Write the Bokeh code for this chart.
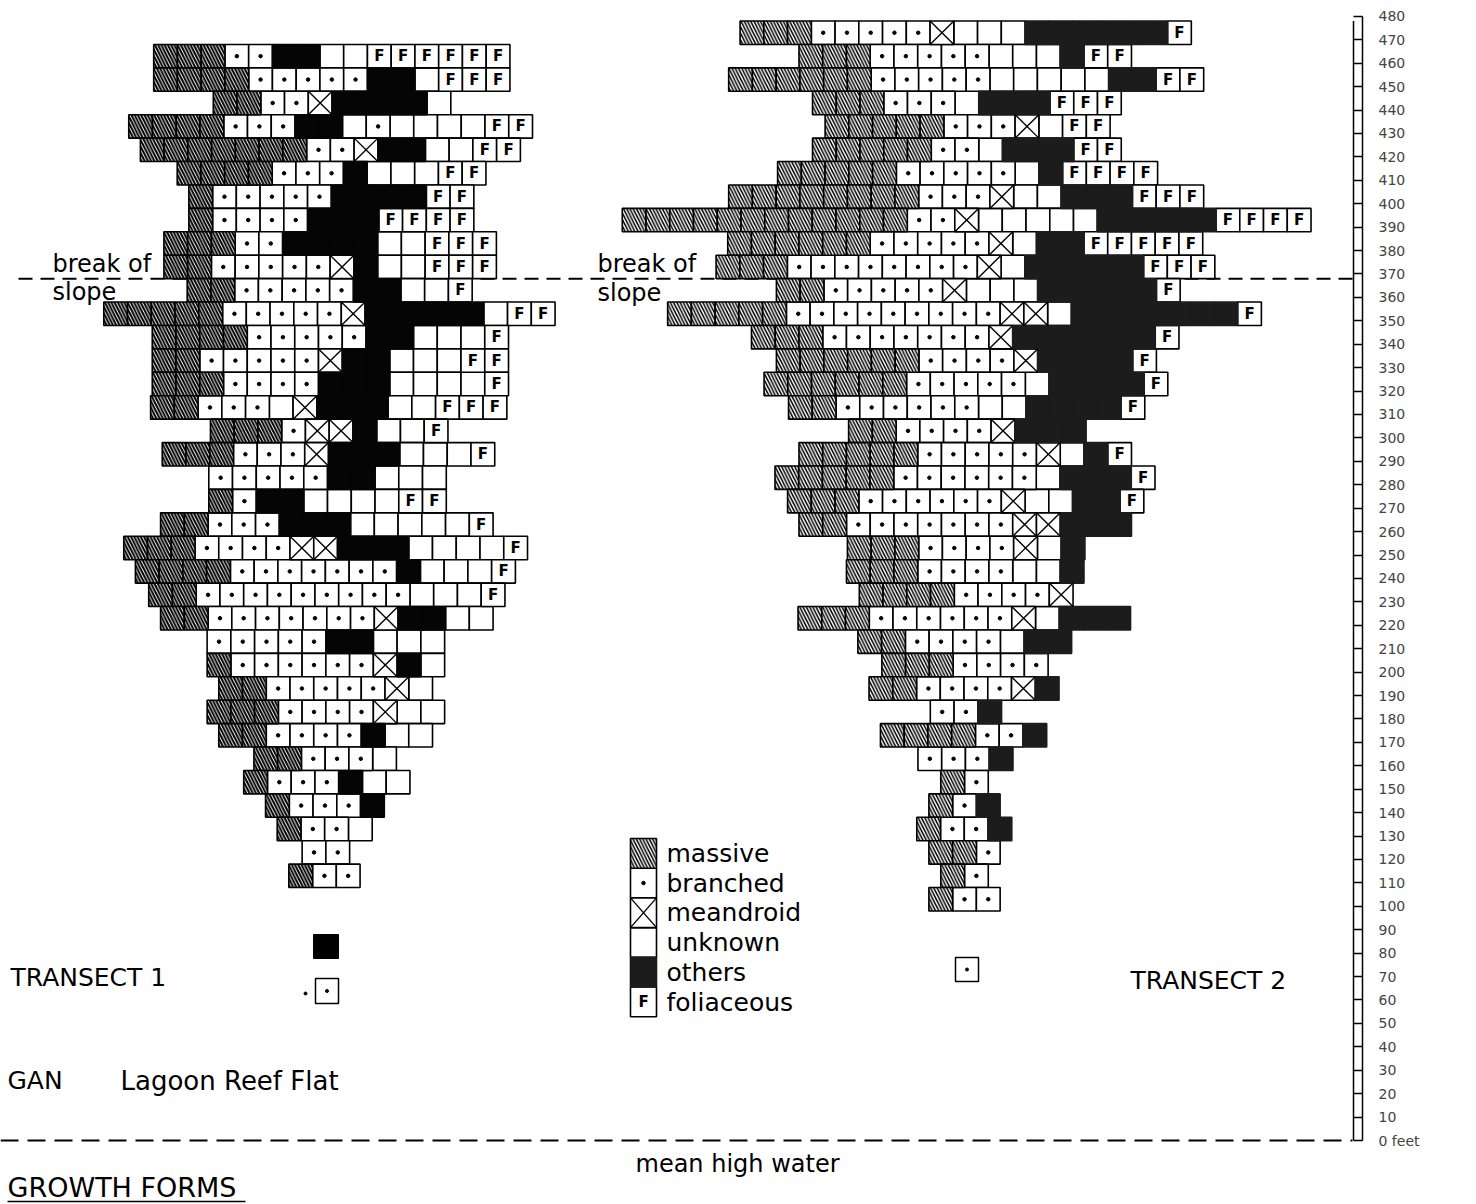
from bokeh.plotting import figure
from bokeh.models import LinearAxis, FixedTicker, Range1d
from bokeh.core.properties import value
from bokeh.embed import file_html
from bokeh.resources import INLINE

# ---------------- data ----------------
# Growth form of each coral cell along 10-ft rows (top row = farthest from mean high water)
# M massive, B branched, X meandroid, U unknown, O others, F foliaceous
t1_levels = list(range(460, 100, -10))
t1_rows = [
    "MMMBBOOUUFFFFFF", "MMMMBBBBBOOUFFF", "MMBBXOOOOU", "MMMMBBBOOUBUUUUFF",
    "MMMMMMMBBXOOUUFF", "MMMMBBBOUUUFF", "MBBBBBOOOOFF", "MBBBBOOOFFFF",
    "MMMBBOOOOUUFFF", "MMBBBBBXOUUFFF", "MMBBBBBOOUUF", "MMMMMBBBBBXOOOOOUFF",
    "MMMMBBBBBOOUUUF", "MMBBBBBXOOUUUFF", "MMMBBBBOOOUUUUF", "MMBBBUXOOOUUFFF",
    "MMMBXXOUUF", "MMMBBBXOOOUUUF", "BBBBBOOUUU", "MBOOUUUUFF",
    "MMBBBOOOUUUUUF", "MMMBBBBXXOOOUUUUF", "MMMMBBBBBBBOUUUF", "MMBBBBBBBBBUUUF",
    "MMBBBBBBBXOOUU", "BBBBBOOUUU", "MBBBBBBXOU", "MMBBBBBXU",
    "MMMBBBBXUU", "MMBBBBOUU", "MMBBBU", "MBBBOUU",
    "MBBBO", "MBBU", "BB", "MBB",
]
t1_start = [2.45, 2.45, 4.96, 1.40, 1.89, 3.44, 3.93, 3.93, 2.88, 2.88, 3.86, 0.35,
            2.39, 2.39, 2.39, 2.32, 4.84, 2.81, 4.77, 4.77, 2.74, 1.19, 1.68, 2.24,
            2.74, 4.70, 4.70, 5.19, 4.70, 5.19, 6.67, 6.24, 7.16, 7.65, 8.70, 8.14]

t2_levels = list(range(470, 90, -10))
t2_rows = [
    "MMMBBBBBXUUUOOOOOOF", "MMMBBBBBUUUOFF", "MMMMMMBBBBBUUUUUOOFF", "MMMBBBUOOOFFF",
    "MMMMMBBBXUFF", "MMMMMBBUOOOFF", "MMMMMBBBBBUOFFFF", "MMMMMMMMBBBXUUOOOFFF",
    "MMMMMMMMMMMMBBXUUUUUOOOOOFFFF", "MMMMMMBBBBBXUOOFFFFF", "MMMBBBBBBBBXUOOOOOFFF",
    "MMBBBBBXUUUOOOOOF", "MMMMMBBBBBBBBBXXUOOOOOOOF", "MMMBBBBBBBXOOOOOOF",
    "MMMMMMBBBBXOOOOF", "MMMMMMBBBBBUOOOOF", "MMBBBBBBUUOOOOF", "MMBBBBXOOO",
    "MMMMMBBBBBXUOF", "MMMMMBBBBBBUOOOF", "MMMBBBBBBXUUOOF", "MMBBBBBBBXXOOO",
    "MMMBBBBXUO", "MMMBBBBUUO", "MMMMBBBBX", "MMMBBBBBBXUOOO", "MMBBBBUOO",
    "MMMBBBB", "MMBBBBXO", "BBO", "MMMMBBO", "BBBO", "MB", "MBO", "MBBO",
    "MMB", "MB", "MBB",
]
t2_start = [5.14, 7.62, 4.66, 8.19, 8.72, 8.19, 6.72, 4.66, 0.18, 4.62, 4.13, 6.67,
            2.09, 5.62, 6.67, 6.15, 7.18, 9.71, 7.62, 6.61, 7.14, 7.62, 9.66, 9.62,
            10.16, 7.58, 10.10, 11.11, 10.57, 13.15, 11.05, 12.63, 13.59, 13.09,
            12.58, 13.09, 13.59, 13.09]

axis_ticks = list(range(0, 490, 10))
break_of_slope = 368
mean_high_water = 0
legend_codes = ["M", "B", "X", "U", "O", "F"]
legend_names = ["massive", "branched", "meandroid", "unknown", "others", "foliaceous"]

# ---------------- layout helpers ----------------
CELL_PX = 23.75
FT_PX = 2.342
Y0 = 1140.0
W, H = 1476, 1204
T1_X0, T2_X0 = 4.0, 26.0
ROW_SHIFT = 3.0
FONT = value("DejaVu Sans")


def X(px):
    return px / CELL_PX


def Y(py):
    return (Y0 - py) / FT_PX


p = figure(width=W, height=H, x_range=Range1d(X(0), X(1362)),
           y_range=Range1d(Y(H), Y(0)), x_axis_type=None, y_axis_type=None,
           toolbar_location=None, output_backend="svg",
           min_border_left=0, min_border_top=0, min_border_bottom=0,
           min_border_right=W - 1362)
p.outline_line_color = None
p.background_fill_color = "white"
p.border_fill_color = "white"

# dashed reference lines
p.line([X(18), X(1352)], [break_of_slope, break_of_slope], line_color="black",
       line_width=2, line_dash="14 8")
p.line([X(0), X(1352)], [mean_high_water, mean_high_water], line_color="black",
       line_width=2, line_dash="18 9")


def collect(rows, starts, levels, x0):
    d = {k: dict(l=[], r=[], b=[], t=[]) for k in "MBXUOF"}
    for s, st, lv in zip(rows, starts, levels):
        yc = lv + ROW_SHIFT
        for j, c in enumerate(s):
            g = d[c]
            g["l"].append(x0 + st + j)
            g["r"].append(x0 + st + j + 1)
            g["b"].append(yc - 5)
            g["t"].append(yc + 5)
    return d


def draw(d, others_fill, hatch_scale, hatch_w):
    lw = 1.6
    for c in "UBFX":
        g = d[c]
        if not g["l"]:
            continue
        p.quad(left=g["l"], right=g["r"], bottom=g["b"], top=g["t"],
               fill_color="white", line_color="black", line_width=lw)
    g = d["M"]
    if g["l"]:
        p.quad(left=g["l"], right=g["r"], bottom=g["b"], top=g["t"],
               fill_color="white", line_color="black", line_width=lw,
               hatch_pattern="\\", hatch_scale=hatch_scale, hatch_weight=hatch_w,
               hatch_color="black")
    g = d["O"]
    if g["l"]:
        p.quad(left=g["l"], right=g["r"], bottom=g["b"], top=g["t"],
               fill_color=others_fill, line_color=others_fill, line_width=lw)
    g = d["B"]
    if g["l"]:
        p.scatter([(a + b) / 2 for a, b in zip(g["l"], g["r"])],
                  [(a + b) / 2 for a, b in zip(g["b"], g["t"])],
                  size=3.5, color="black")
    g = d["X"]
    if g["l"]:
        p.segment(g["l"], g["b"], g["r"], g["t"], line_color="black", line_width=1.4)
        p.segment(g["l"], g["t"], g["r"], g["b"], line_color="black", line_width=1.4)
    g = d["F"]
    if g["l"]:
        p.text([(a + b) / 2 for a, b in zip(g["l"], g["r"])],
               [(a + b) / 2 for a, b in zip(g["b"], g["t"])],
               text=["F"] * len(g["l"]), text_font=FONT, text_font_style="bold",
               text_font_size="15px", text_align="center", text_baseline="middle")


draw(collect(t1_rows, t1_start, t1_levels, T1_X0), "#050505", 6.5, 2.0)
draw(collect(t2_rows, t2_start, t2_levels, T2_X0), "#1c1c1c", 6.5, 1.5)

# legend
lg = {k: dict(l=[], r=[], b=[], t=[]) for k in "MBXUOF"}
for k, code in enumerate(legend_codes):
    top = 838 + 29.7 * k
    lg[code]["l"].append(X(630))
    lg[code]["r"].append(X(656))
    lg[code]["b"].append(Y(top + 29.7))
    lg[code]["t"].append(Y(top))
draw(lg, "#1c1c1c", 6.5, 1.5)
p.text([X(666)] * len(legend_names), [Y(853 + 29.7 * k) for k in range(len(legend_names))],
       text=legend_names, text_font=FONT, text_font_size="25px",
       text_align="left", text_baseline="middle")

# isolated marks
p.quad(left=[X(313)], right=[X(338)], bottom=[Y(958)], top=[Y(934)],
       fill_color="black", line_color="black")
p.quad(left=[X(315), X(955)], right=[X(338), X(978)], bottom=[Y(1003), Y(981)],
       top=[Y(978), Y(957)], fill_color="white", line_color="black", line_width=1.5)
p.scatter([X(326.5), X(966.5), X(305)], [Y(990.5), Y(969), Y(993)], size=3, color="black")


# texts
def txt(x, y, s, size="25px"):
    p.text([X(x)], [Y(y)], text=[s], text_font=FONT, text_font_size=size,
           text_align="left", text_baseline="middle")


txt(10, 977, "TRANSECT 1")
txt(1130, 980, "TRANSECT  2")
txt(7, 1080, "GAN")
txt(120, 1080, "Lagoon Reef Flat", "26px")
txt(635, 1163, "mean high water", "24px")
txt(7, 1187, "GROWTH  FORMS", "27px")
p.line([X(7), X(245)], [Y(1201), Y(1201)], line_color="black", line_width=1.5)
txt(52, 263, "break  of", "24px")
txt(52, 291, "slope", "24px")
txt(597, 263, "break  of", "24px")
txt(597, 292, "slope", "24px")

# feet scale (ladder)
p.segment([X(1353)], [0], [X(1353)], [478], line_color="black", line_width=1.5)
ax = LinearAxis(ticker=FixedTicker(ticks=axis_ticks), bounds=(0, 480))
ax.major_tick_in = 9
ax.major_tick_out = 0
ax.minor_tick_line_color = None
ax.axis_line_width = 1.5
ax.major_tick_line_width = 1.5
ax.major_label_standoff = 16
ax.major_label_text_font = "DejaVu Sans"
ax.major_label_text_font_size = "14px"
ax.major_label_overrides = {0: "0 feet"}
p.add_layout(ax, "right")

open("out.html", "w").write(file_html(p, INLINE))
